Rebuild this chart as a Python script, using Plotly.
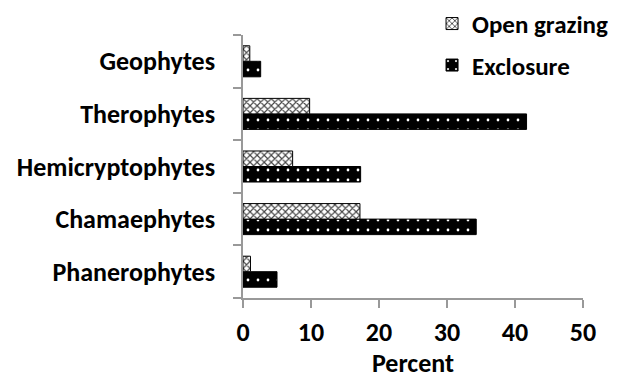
import plotly.graph_objects as go

categories = ["Phanerophytes", "Chamaephytes", "Hemicryptophytes", "Therophytes", "Geophytes"]
open_grazing = [1.1, 17.2, 7.3, 9.8, 1.0]
exclosure = [5.0, 34.3, 17.3, 41.7, 2.6]
x_ticks = [0, 10, 20, 30, 40, 50]

FONT = "Carlito, Lato, sans-serif"
FS = 26

fig = go.Figure()
fig.add_trace(go.Bar(
    y=categories, x=exclosure, orientation="h", name="Exclosure",
    legendgroup="b", legendrank=2,
    marker=dict(color="black", line=dict(color="black", width=1),
                pattern=dict(shape=".", bgcolor="black", fgcolor="white",
                             size=10, solidity=0.06, fillmode="replace")),
))
fig.add_trace(go.Bar(
    y=categories, x=open_grazing, orientation="h", name="Open grazing",
    legendgroup="a", legendrank=1,
    marker=dict(color="white", line=dict(color="black", width=1),
                pattern=dict(shape="x", bgcolor="white", fgcolor="#444444",
                             size=5, solidity=0.4, fillmode="replace")),
))

fig.update_layout(
    width=611, height=371,
    margin=dict(l=235, r=36, t=27, b=81, autoexpand=False),
    paper_bgcolor="white", plot_bgcolor="white",
    barmode="group", bargap=0.41, bargroupgap=0,
    font=dict(family=FONT, size=FS, color="black"),
    showlegend=True,
    legend=dict(x=0.556, y=1.13, xanchor="left", yanchor="top",
                traceorder="grouped", tracegroupgap=6,
                font=dict(family=FONT, size=25, color="black", weight="bold"),
                bgcolor="rgba(0,0,0,0)", itemwidth=30),
    xaxis=dict(range=[0, 50], tickvals=x_ticks, ticktext=[str(v) for v in x_ticks],
               showgrid=False, zeroline=False, showline=True, linecolor="#999999",
               linewidth=1.5, ticks="outside", ticklen=8, tickcolor="#999999",
               tickwidth=1.5, automargin=False, ticklabelstandoff=2,
               tickfont=dict(family=FONT, size=FS, weight="bold"),
               title=dict(text="Percent", font=dict(family=FONT, size=FS, weight="bold"),
                          standoff=19)),
    yaxis=dict(showgrid=False, zeroline=False, showline=True, linecolor="#999999",
               linewidth=1.5, ticks="outside", ticklen=8, tickcolor="#999999",
               tickwidth=1.5, tickson="boundaries", ticklabelstandoff=21,
               automargin=False,
               tickfont=dict(family=FONT, size=FS, weight="bold")),
)

fig.write_html("out.html")
